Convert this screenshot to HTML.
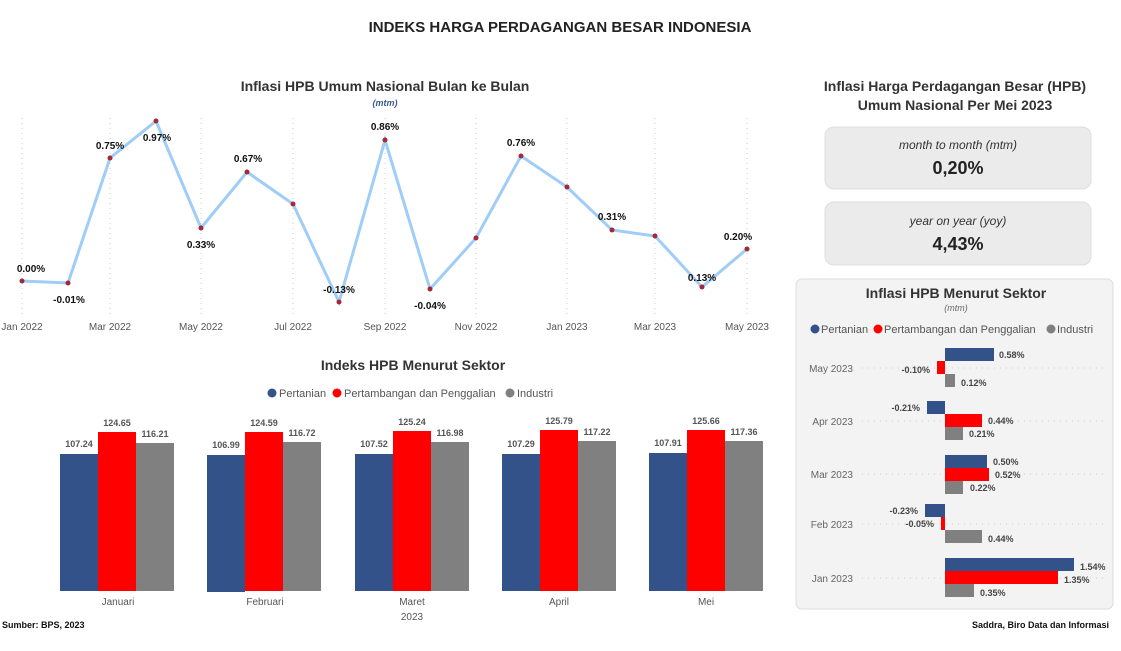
<!DOCTYPE html>
<html><head><meta charset="utf-8"><style>
body{margin:0;width:1121px;height:646px;background:#fff;font-family:"Liberation Sans",sans-serif;overflow:hidden}
</style></head><body>
<svg width="1121" height="646" xmlns="http://www.w3.org/2000/svg" font-family="Liberation Sans, sans-serif">
<text x="560" y="32" text-anchor="middle" font-size="15" font-weight="bold" fill="#222">INDEKS HARGA PERDAGANGAN BESAR INDONESIA</text>
<!-- line chart -->
<text x="385" y="91" text-anchor="middle" font-size="14" font-weight="bold" fill="#333">Inflasi HPB Umum Nasional Bulan ke Bulan</text>
<text x="385" y="106" text-anchor="middle" font-size="9" font-style="italic" font-weight="bold" fill="#3a5a9a">(mtm)</text>
<g stroke="#ccc" stroke-dasharray="1,4" stroke-width="1">
<line x1="22" y1="118" x2="22" y2="315"/><line x1="110" y1="118" x2="110" y2="315"/><line x1="201" y1="118" x2="201" y2="315"/><line x1="293" y1="118" x2="293" y2="315"/><line x1="385" y1="118" x2="385" y2="315"/><line x1="476" y1="118" x2="476" y2="315"/><line x1="567" y1="118" x2="567" y2="315"/><line x1="655" y1="118" x2="655" y2="315"/><line x1="747" y1="118" x2="747" y2="315"/>
</g>
<polyline fill="none" stroke="#9fcdf7" stroke-width="3" points="22,281 68,283 110,158 156,121 201,228 247,172 293,204 339,302 385,140 430,289 476,238 521,156 567,187 612,230 655,236 702,287 747,249"/>
<g fill="#a3283a">
<circle cx="22" cy="281" r="2.5"/><circle cx="68" cy="283" r="2.5"/><circle cx="110" cy="158" r="2.5"/><circle cx="156" cy="121" r="2.5"/><circle cx="201" cy="228" r="2.5"/><circle cx="247" cy="172" r="2.5"/><circle cx="293" cy="204" r="2.5"/><circle cx="339" cy="302" r="2.5"/><circle cx="385" cy="140" r="2.5"/><circle cx="430" cy="289" r="2.5"/><circle cx="476" cy="238" r="2.5"/><circle cx="521" cy="156" r="2.5"/><circle cx="567" cy="187" r="2.5"/><circle cx="612" cy="230" r="2.5"/><circle cx="655" cy="236" r="2.5"/><circle cx="702" cy="287" r="2.5"/><circle cx="747" cy="249" r="2.5"/>
</g>
<g font-size="10" font-weight="bold" fill="#111" text-anchor="middle">
<text x="31" y="272">0.00%</text><text x="69" y="303">-0.01%</text><text x="110" y="149">0.75%</text><text x="157" y="141">0.97%</text><text x="201" y="248">0.33%</text><text x="248" y="162">0.67%</text><text x="339" y="293">-0.13%</text><text x="385" y="130">0.86%</text><text x="430" y="309">-0.04%</text><text x="521" y="146">0.76%</text><text x="612" y="220">0.31%</text><text x="702" y="281">0.13%</text><text x="738" y="240">0.20%</text>
</g>
<g font-size="10" fill="#555" text-anchor="middle">
<text x="22" y="330">Jan 2022</text><text x="110" y="330">Mar 2022</text><text x="201" y="330">May 2022</text><text x="293" y="330">Jul 2022</text><text x="385" y="330">Sep 2022</text><text x="476" y="330">Nov 2022</text><text x="567" y="330">Jan 2023</text><text x="655" y="330">Mar 2023</text><text x="747" y="330">May 2023</text>
</g>
<!-- bar chart -->
<text x="413" y="370" text-anchor="middle" font-size="14" font-weight="bold" fill="#333">Indeks HPB Menurut Sektor</text>
<g font-size="11" fill="#555">
<circle cx="272" cy="393" r="4.5" fill="#34528a"/><text x="279" y="397">Pertanian</text>
<circle cx="337" cy="393" r="4.5" fill="#f00"/><text x="344" y="397">Pertambangan dan Penggalian</text>
<circle cx="510" cy="393" r="4.5" fill="#808080"/><text x="517" y="397">Industri</text>
</g>
<g>
<rect x="60" y="454" width="38" height="137" fill="#34528a"/><rect x="98" y="432" width="38" height="159" fill="#f00"/><rect x="136" y="443" width="38" height="148" fill="#808080"/>
<rect x="207" y="455" width="38" height="137" fill="#34528a"/><rect x="245" y="432" width="38" height="159" fill="#f00"/><rect x="283" y="442" width="38" height="149" fill="#808080"/>
<rect x="355" y="454" width="38" height="137" fill="#34528a"/><rect x="393" y="431" width="38" height="160" fill="#f00"/><rect x="431" y="442" width="38" height="149" fill="#808080"/>
<rect x="502" y="454" width="38" height="137" fill="#34528a"/><rect x="540" y="430" width="38" height="161" fill="#f00"/><rect x="578" y="441" width="38" height="150" fill="#808080"/>
<rect x="649" y="453" width="38" height="138" fill="#34528a"/><rect x="687" y="430" width="38" height="161" fill="#f00"/><rect x="725" y="441" width="38" height="150" fill="#808080"/>
</g>
<g font-size="9" font-weight="bold" fill="#555" text-anchor="middle">
<text x="79" y="447">107.24</text><text x="117" y="426">124.65</text><text x="155" y="437">116.21</text>
<text x="226" y="448">106.99</text><text x="264" y="426">124.59</text><text x="302" y="436">116.72</text>
<text x="374" y="447">107.52</text><text x="412" y="425">125.24</text><text x="450" y="436">116.98</text>
<text x="521" y="447">107.29</text><text x="559" y="424">125.79</text><text x="597" y="435">117.22</text>
<text x="668" y="446">107.91</text><text x="706" y="424">125.66</text><text x="744" y="435">117.36</text>
</g>
<g font-size="10" fill="#555" text-anchor="middle">
<text x="118" y="605">Januari</text><text x="265" y="605">Februari</text><text x="412" y="605">Maret</text><text x="412" y="620">2023</text><text x="559" y="605">April</text><text x="706" y="605">Mei</text>
</g>
<text x="2" y="628" font-size="9" font-weight="bold" fill="#111">Sumber: BPS, 2023</text>
<!-- right panel -->
<text x="955" y="91" text-anchor="middle" font-size="14" font-weight="bold" fill="#333">Inflasi Harga Perdagangan Besar (HPB)</text>
<text x="955" y="110" text-anchor="middle" font-size="14" font-weight="bold" fill="#333">Umum Nasional Per Mei 2023</text>
<rect x="825" y="127" width="266" height="62" rx="9" fill="#ebebeb" stroke="#ddd"/>
<text x="958" y="149" text-anchor="middle" font-size="12" font-style="italic" fill="#333">month to month (mtm)</text>
<text x="958" y="174" text-anchor="middle" font-size="18" font-weight="bold" fill="#222">0,20%</text>
<rect x="825" y="202" width="266" height="63" rx="9" fill="#ebebeb" stroke="#ddd"/>
<text x="958" y="225" text-anchor="middle" font-size="12" font-style="italic" fill="#333">year on year (yoy)</text>
<text x="958" y="250" text-anchor="middle" font-size="18" font-weight="bold" fill="#222">4,43%</text>
<rect x="796" y="279" width="317" height="330" rx="6" fill="#f3f3f3" stroke="#ddd"/>
<text x="956" y="298" text-anchor="middle" font-size="14" font-weight="bold" fill="#333">Inflasi HPB Menurut Sektor</text>
<text x="956" y="311" text-anchor="middle" font-size="9" font-style="italic" fill="#666">(mtm)</text>
<g font-size="11" fill="#555">
<circle cx="815" cy="329" r="4.5" fill="#34528a"/><text x="821" y="333">Pertanian</text>
<circle cx="878" cy="329" r="4.5" fill="#f00"/><text x="884" y="333">Pertambangan dan Penggalian</text>
<circle cx="1051" cy="329" r="4.5" fill="#808080"/><text x="1057" y="333">Industri</text>
</g>
<g stroke="#ccc" stroke-dasharray="1,5">
<line x1="862" y1="368" x2="1108" y2="368"/><line x1="862" y1="421" x2="1108" y2="421"/><line x1="862" y1="474" x2="1108" y2="474"/><line x1="862" y1="524" x2="1108" y2="524"/><line x1="862" y1="578" x2="1108" y2="578"/>
</g>
<g font-size="10" fill="#666" text-anchor="end">
<text x="853" y="372">May 2023</text><text x="853" y="425">Apr 2023</text><text x="853" y="478">Mar 2023</text><text x="853" y="528">Feb 2023</text><text x="853" y="582">Jan 2023</text>
</g>
<g>
<rect x="945" y="348" width="49" height="13" fill="#34528a"/><rect x="937" y="361" width="8" height="13" fill="#f00"/><rect x="945" y="374" width="10" height="13" fill="#808080"/>
<rect x="927" y="401" width="18" height="13" fill="#34528a"/><rect x="945" y="414" width="37" height="13" fill="#f00"/><rect x="945" y="427" width="18" height="13" fill="#808080"/>
<rect x="945" y="455" width="42" height="13" fill="#34528a"/><rect x="945" y="468" width="44" height="13" fill="#f00"/><rect x="945" y="481" width="18" height="13" fill="#808080"/>
<rect x="925" y="504" width="20" height="13" fill="#34528a"/><rect x="941" y="517" width="4" height="13" fill="#f00"/><rect x="945" y="530" width="37" height="13" fill="#808080"/>
<rect x="945" y="558" width="129" height="13" fill="#34528a"/><rect x="945" y="571" width="113" height="13" fill="#f00"/><rect x="945" y="584" width="29" height="13" fill="#808080"/>
</g>
<g font-size="9" font-weight="bold" fill="#444">
<text x="999" y="358">0.58%</text><text x="930" y="373" text-anchor="end">-0.10%</text><text x="961" y="386">0.12%</text>
<text x="920" y="411" text-anchor="end">-0.21%</text><text x="988" y="424">0.44%</text><text x="969" y="437">0.21%</text>
<text x="993" y="465">0.50%</text><text x="995" y="478">0.52%</text><text x="970" y="491">0.22%</text>
<text x="918" y="514" text-anchor="end">-0.23%</text><text x="934" y="527" text-anchor="end">-0.05%</text><text x="988" y="542">0.44%</text>
<text x="1080" y="570">1.54%</text><text x="1064" y="583">1.35%</text><text x="980" y="596">0.35%</text>
</g>
<text x="1109" y="628" text-anchor="end" font-size="9" font-weight="bold" fill="#111">Saddra, Biro Data dan Informasi</text>
</svg>
</body></html>
